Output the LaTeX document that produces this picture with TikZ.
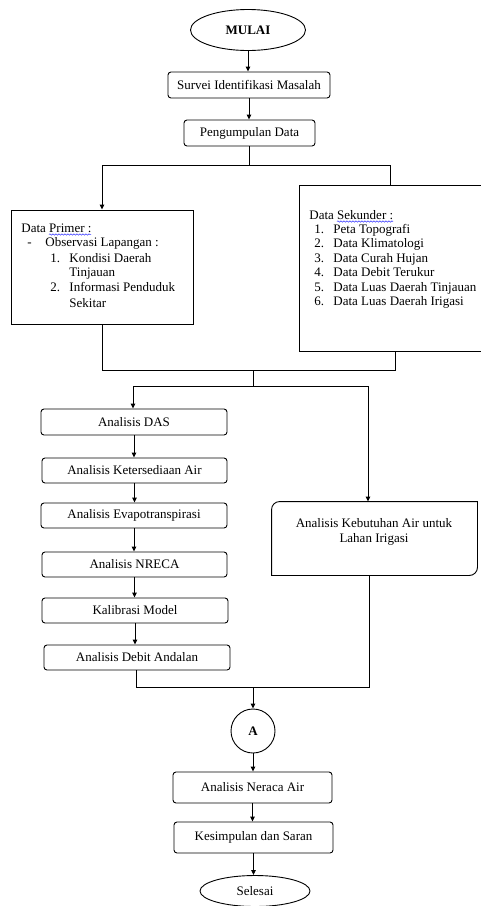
\documentclass[tikz,border=0pt]{standalone}
\usepackage{fontspec}
\setmainfont{Liberation Serif}
\usetikzlibrary{arrows.meta,shapes.geometric,decorations.pathmorphing,calc}
\begin{document}
\begin{tikzpicture}[x=1pt,y=-1pt,
  font=\fontsize{13}{15}\selectfont,
  line width=0.9pt,
  box/.style={draw,rounded corners=3pt,inner sep=0pt,align=center},
  plainbox/.style={draw,inner sep=0pt},
  term/.style={draw,ellipse,inner sep=0pt},
  txt/.style={anchor=west,inner sep=0pt,text height=9pt,text depth=3pt},
  arr/.style={-{Triangle[length=5pt,width=4.5pt]}},
  squig/.style={draw=blue!80,line width=0.5pt,decorate,decoration={snake,segment length=3pt,amplitude=0.7pt}}]
\useasboundingbox (0,0) rectangle (480,906);

% top part
\node[term,minimum width=115pt,minimum height=41pt] (mulai) at (248,30) {\textbf{MULAI}};
\node[box,minimum width=162pt,minimum height=26pt] (survei) at (249,85) {Survei Identifikasi Masalah};
\node[box,minimum width=131pt,minimum height=26pt] (peng) at (249.5,133) {Pengumpulan Data};

% data boxes
\node[plainbox,minimum width=182pt,minimum height=114pt] (primer) at (102,267) {};
\node[inner sep=0pt,minimum width=182pt,minimum height=165pt] (sek) at (391,268.5) {};
\draw (sek.north east) -- (sek.north west) -- (sek.south west) -- (sek.south east);

% primer text
\node[txt] (p1) at (21,229) {Data Primer :};
\node[txt] (p2a) at (27,243) {-};
\node[txt] (p2) at (45,243) {Observasi Lapangan :};
\node[txt] (p3a) at (50,259) {1.};
\node[txt] (p3) at (69,259) {Kondisi Daerah};
\node[txt] (p4) at (69,273) {Tinjauan};
\node[txt] (p5a) at (50,288) {2.};
\node[txt] (p5) at (69,288) {Informasi Penduduk};
\node[txt] (p6) at (69,304) {Sekitar};
\draw[squig] ([xshift=28pt,yshift=-2.5pt]p1.base west) -- ([xshift=70pt,yshift=-2.5pt]p1.base west);

% sekunder text
\node[txt] (s0) at (309,216) {Data Sekunder :};
\node[txt] (s1a) at (314,230.5) {1.};
\node[txt] (s1) at (333,230.5) {Peta Topografi};
\node[txt] (s2a) at (314,244.5) {2.};
\node[txt] (s2) at (333,244.5) {Data Klimatologi};
\node[txt] (s3a) at (314,259) {3.};
\node[txt] (s3) at (333,259) {Data Curah Hujan};
\node[txt] (s4a) at (314,273.5) {4.};
\node[txt] (s4) at (333,273.5) {Data Debit Terukur};
\node[txt] (s5a) at (314,288) {5.};
\node[txt] (s5) at (333,288) {Data Luas Daerah Tinjauan};
\node[txt] (s6a) at (314,302.5) {6.};
\node[txt] (s6) at (333,302.5) {Data Luas Daerah Irigasi};
\draw[squig] ([xshift=28pt,yshift=-2.5pt]s0.base west) -- ([xshift=84pt,yshift=-2.5pt]s0.base west);

% analysis column
\node[box,minimum width=186pt,minimum height=26pt] (das) at (134,422) {Analisis DAS};
\node[box,minimum width=185pt,minimum height=25pt] (ket) at (134.5,470.5) {Analisis Ketersediaan Air};
\node[box,minimum width=186pt,minimum height=25pt] (evap) at (134,515.5) {Analisis Evapotranspirasi};
\node[box,minimum width=185pt,minimum height=25pt] (nreca) at (134.5,564.5) {Analisis NRECA};
\node[box,minimum width=186pt,minimum height=25pt] (kal) at (135,610.5) {Kalibrasi Model};
\node[box,minimum width=186pt,minimum height=25pt] (debit) at (137,657.5) {Analisis Debit Andalan};

% kebutuhan box (rounded top-left and bottom-right)
\node[inner sep=0pt,minimum width=205pt,minimum height=73pt] (keb) at (374.5,538.5) {};
\draw[rounded corners=8pt,line cap=rect] (keb.south west) -- (keb.north west) -- (keb.north east);
\draw[rounded corners=8pt,line cap=rect] (keb.north east) -- (keb.south east) -- (keb.south west);
\node[align=center,inner sep=0pt] (kebtext) at (374,532) {Analisis Kebutuhan Air untuk\\Lahan Irigasi};

% bottom part
\node[draw,circle,minimum size=44pt,inner sep=0pt] (A) at (253,731) {\textbf{A}};
\node[box,minimum width=159pt,minimum height=31pt] (neraca) at (252.5,787.5) {Analisis Neraca Air};
\node[box,minimum width=159pt,minimum height=31pt] (kes) at (253.5,837.5) {Kesimpulan dan Saran};
\node[term,minimum width=110pt,minimum height=31pt] (selesai) at (255,891) {Selesai};

% junction coordinates
\coordinate (j1) at (249.5,165);
\coordinate (j1l) at (102,165);
\coordinate (j1r) at (390,165);
\coordinate (j2l) at (102,370);
\coordinate (j2r) at (395,370);
\coordinate (j2) at (253,370);
\coordinate (j3) at (253,386);
\coordinate (j3l) at (133,386);
\coordinate (j3r) at (368,386);
\coordinate (j4l) at (136,687);
\coordinate (j4r) at (369,687);
\coordinate (j4) at (253,687);

% connectors
\draw[arr] (mulai.south) -- (mulai.south |- survei.north);
\draw[arr] (survei.south) -- (survei.south |- peng.north);
\draw (peng.south) -- (j1);
\draw (j1l) -- (j1r);
\draw[arr] (j1l) -- (primer.north);
\draw (j1r) -- (j1r |- sek.north);

\draw (primer.south) -- (j2l) -- (j2r) -- (sek.south -| j2r);
\draw (j2) -- (j3);
\draw (j3l) -- (j3r);
\draw[arr] (j3l) -- (j3l |- das.north);
\draw[arr] (j3r) -- (j3r |- keb.north);

\draw[arr] (das.south) -- (das.south |- ket.north);
\draw[arr] (ket.south) -- (ket.south |- evap.north);
\draw[arr] (evap.south) -- (evap.south |- nreca.north);
\draw[arr] (nreca.south) -- (nreca.south |- kal.north);
\draw[arr] (kal.south) -- (kal.south |- debit.north);

\draw (debit.south -| j4l) -- (j4l) -- (j4r) -- (keb.south -| j4r);
\draw[arr] (j4) -- (A.north);
\draw[arr] (A.south) -- (A.south |- neraca.north);
\draw[arr] (neraca.south) -- (neraca.south |- kes.north);
\draw[arr] (kes.south) -- (kes.south |- selesai.north);
\end{tikzpicture}
\end{document}
